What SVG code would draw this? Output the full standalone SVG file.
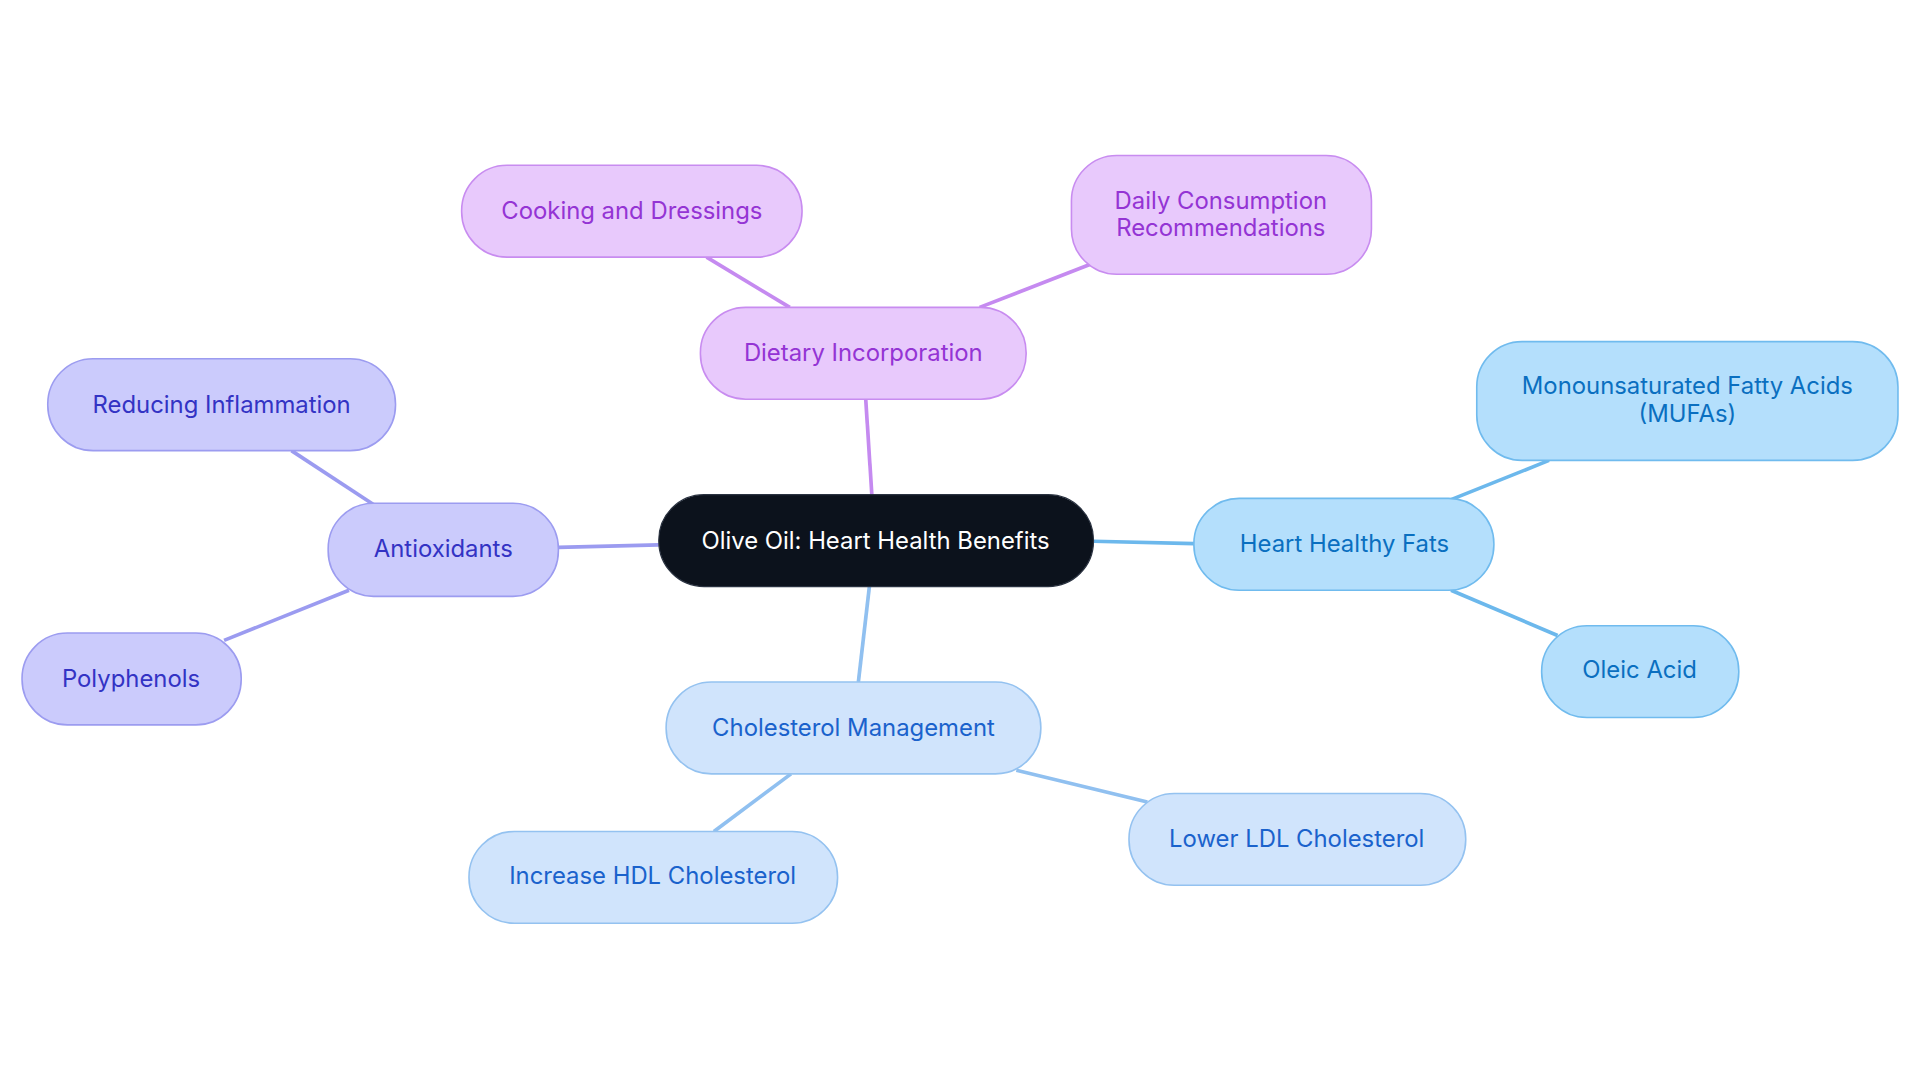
<svg xmlns="http://www.w3.org/2000/svg" width="1920" height="1083" viewBox="0 0 1920 1083">
<style>
text{font-family:Inter,"Noto Sans",sans-serif;font-size:19.5px;text-anchor:middle;dominant-baseline:central}
.p rect{fill:#e8c9fc;stroke:#c88cf0;stroke-width:1.3}.p text{fill:#9434d4}
.i rect{fill:#cbcbfc;stroke:#9c9cf0;stroke-width:1.3}.i text{fill:#3333c4}
.b rect{fill:#b4dffc;stroke:#70bbee;stroke-width:1.3}.b text{fill:#0a6fc0}
.c rect{fill:#d0e4fc;stroke:#94c2f0;stroke-width:1.3}.c text{fill:#1a62cc}
.e line{stroke-width:3}
</style>
<rect width="1920" height="1083" fill="#fff"/>
<g transform="scale(1.2245)">
<g id="connectors" class="e">
<line x1="712" y1="404" x2="707" y2="326" stroke="#c58af0"/>
<line x1="645" y1="251" x2="577" y2="210" stroke="#c58af0"/>
<line x1="800" y1="251" x2="890" y2="216" stroke="#c58af0"/>
<line x1="893" y1="442" x2="975" y2="444" stroke="#6cb8ec"/>
<line x1="1185" y1="408" x2="1265" y2="376" stroke="#6cb8ec"/>
<line x1="1185" y1="482" x2="1272" y2="519" stroke="#6cb8ec"/>
<line x1="710" y1="479" x2="701" y2="557" stroke="#90c0f0"/>
<line x1="830" y1="629" x2="937" y2="655" stroke="#90c0f0"/>
<line x1="646" y1="632" x2="583" y2="679" stroke="#90c0f0"/>
<line x1="538" y1="445" x2="456" y2="447" stroke="#9b9bf0"/>
<line x1="305" y1="412" x2="238" y2="368" stroke="#9b9bf0"/>
<line x1="285" y1="482" x2="183" y2="523" stroke="#9b9bf0"/>
</g>
<g id="center"><rect x="538" y="404" width="355" height="75" rx="37" fill="#0c121c" stroke="#2a3240"/><text x="715" y="441" fill="#fff">Olive Oil: Heart Health Benefits</text></g>
<g id="dietary" class="p"><rect x="572" y="251" width="266" height="75" rx="37"/><text x="705" y="288">Dietary Incorporation</text></g>
<g id="cooking" class="p"><rect x="377" y="135" width="278" height="75" rx="37"/><text x="516" y="172">Cooking and Dressings</text></g>
<g id="daily" class="p"><rect x="875" y="127" width="245" height="97" rx="37"/><text x="997" y="164">Daily Consumption</text><text x="997" y="186">Recommendations</text></g>
<g id="fats" class="b"><rect x="975" y="407" width="245" height="75" rx="37"/><text x="1098" y="444">Heart Healthy Fats</text></g>
<g id="mufa" class="b"><rect x="1206" y="279" width="344" height="97" rx="37"/><text x="1378" y="315">Monounsaturated Fatty Acids</text><text x="1378" y="338">(MUFAs)</text></g>
<g id="oleic" class="b"><rect x="1259" y="511" width="161" height="75" rx="37"/><text x="1339" y="547">Oleic Acid</text></g>
<g id="chol" class="c"><rect x="544" y="557" width="306" height="75" rx="37"/><text x="697" y="594">Cholesterol Management</text></g>
<g id="ldl" class="c"><rect x="922" y="648" width="275" height="75" rx="37"/><text x="1059" y="685">Lower LDL Cholesterol</text></g>
<g id="hdl" class="c"><rect x="383" y="679" width="301" height="75" rx="37"/><text x="533" y="715">Increase HDL Cholesterol</text></g>
<g id="antiox" class="i"><rect x="268" y="411" width="188" height="76" rx="37"/><text x="362" y="448">Antioxidants</text></g>
<g id="inflam" class="i"><rect x="39" y="293" width="284" height="75" rx="37"/><text x="181" y="330">Reducing Inflammation</text></g>
<g id="poly" class="i"><rect x="18" y="517" width="179" height="75" rx="37"/><text x="107" y="554">Polyphenols</text></g>
</g>
</svg>
